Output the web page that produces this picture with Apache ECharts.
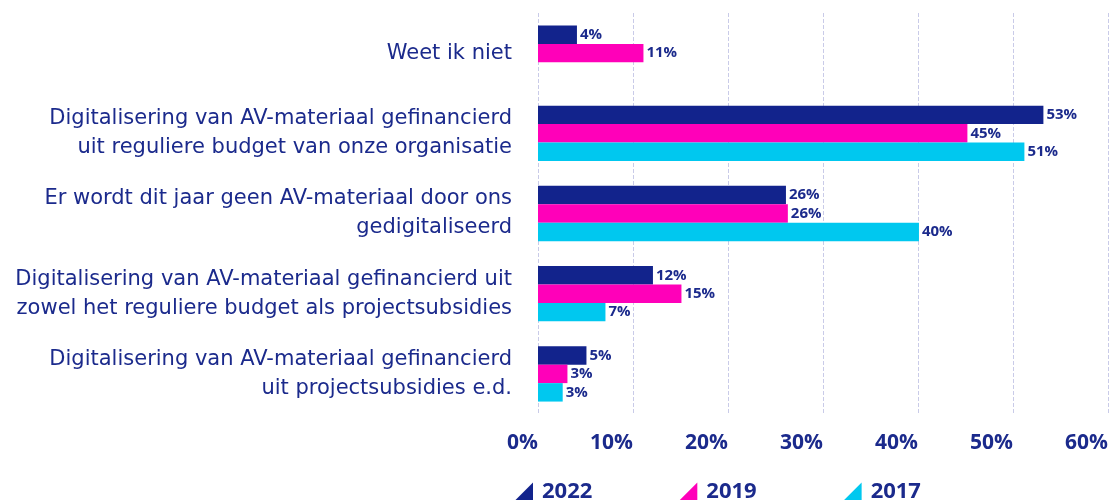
<!DOCTYPE html>
<html>
<head>
<meta charset="utf-8">
<script src="https://cdn.jsdelivr.net/npm/echarts@6/dist/echarts.min.js"></script>
<style>
  html, body { margin: 0; padding: 0; background: #fff; }
  #chart { width: 1112px; height: 500px; }
</style>
</head>
<body>
<div id="chart"></div>
<script>
// categories, top to bottom
const categories = [
  'Weet ik niet',
  'Digitalisering van AV-materiaal gefinancierd\nuit reguliere budget van onze organisatie',
  'Er wordt dit jaar geen AV-materiaal door ons\ngedigitaliseerd',
  'Digitalisering van AV-materiaal gefinancierd uit\nzowel het reguliere budget als projectsubsidies',
  'Digitalisering van AV-materiaal gefinancierd\nuit projectsubsidies e.d.'
];
const years = ['2022', '2019', '2017'];
const values2022 = [4.1, 53.2, 26.1, 12.1, 5.1];
const values2019 = [11.1, 45.2, 26.3, 15.1, 3.1];
const values2017 = [null, 51.2, 40.1, 7.1, 2.6];
const colors = ['#12238c', '#ff00b9', '#00c8ef'];
const navy = '#1b2a8c';
const font = 'Open Sans';

const triangle = 'path://M10,0 L10,10 L0,10 Z';

function makeSeries(name, data, color) {
  return {
    name: name,
    type: 'bar',
    data: data,
    itemStyle: { color: color },
    barGap: '0%',
    barCategoryGap: '31%',
    label: {
      show: true,
      position: 'right',
      distance: 3,
      formatter: p => Math.round(p.value) + '%',
      color: navy,
      fontWeight: 'bold',
      fontSize: 15,
      fontFamily: font
    }
  };
}

const chart = echarts.init(document.getElementById('chart'));
chart.setOption({
  animation: false,
  grid: { left: 538, right: 4, top: 13, bottom: 86, containLabel: false },
  legend: {
    top: 476,
    left: 509,
    itemGap: 86,
    itemWidth: 19,
    itemHeight: 19,
    icon: triangle,
    data: years,
    textStyle: { color: navy, fontSize: 22, fontWeight: 'bold', fontFamily: font, padding: [0, 0, 0, 4] }
  },
  xAxis: {
    type: 'value',
    min: 0,
    max: 60,
    interval: 10,
    axisLine: { show: false },
    axisTick: { show: false },
    splitLine: { lineStyle: { type: 'dashed', color: '#c9cbe8', width: 1 } },
    axisLabel: {
      formatter: '{value}%',
      align: 'right',
      margin: 19,
      color: navy,
      fontSize: 21,
      fontWeight: 'bold',
      fontFamily: font
    }
  },
  yAxis: {
    type: 'category',
    data: categories,
    inverse: true,
    axisLine: { show: false },
    axisTick: { show: false },
    axisLabel: {
      margin: 26,
      color: navy,
      fontSize: 21,
      lineHeight: 29,
      fontFamily: 'DejaVu Sans',
      align: 'right'
    }
  },
  series: [
    makeSeries(years[0], values2022, colors[0]),
    makeSeries(years[1], values2019, colors[1]),
    makeSeries(years[2], values2017, colors[2])
  ]
});
</script>
</body>
</html>
